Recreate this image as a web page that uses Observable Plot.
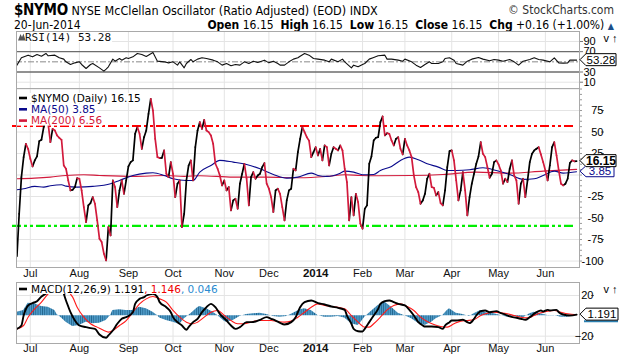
<!DOCTYPE html>
<html><head><meta charset="utf-8">
<script src="https://cdn.jsdelivr.net/npm/d3@7"></script>
<script src="https://cdn.jsdelivr.net/npm/@observablehq/plot@0.6"></script>
<style>
body{margin:0;background:#fff;}
#wrap{position:relative;width:620px;height:360px;overflow:hidden;font-family:"DejaVu Sans",Verdana,sans-serif;}
.abs{position:absolute;white-space:nowrap;}
.nar{font-family:"Liberation Sans Narrow","Arial Narrow","DejaVu Sans Condensed",sans-serif;}
svg{overflow:visible;}
</style></head><body><div id="wrap">
<div class="abs nar" id="title" style="left:14px;top:1px;font-size:12.5px;"><b style="font-size:15px;letter-spacing:-0.3px">$NYMO</b> NYSE McClellan Oscillator (Ratio Adjusted) (EOD) INDX</div>
<div class="abs nar" id="brand" style="right:6px;top:3px;font-size:12px;color:#333">© StockCharts.com</div>
<div class="abs nar" id="date" style="left:14px;top:18px;font-size:12px;"></div>
<div class="abs nar" id="ohlc" style="right:6px;top:18px;font-size:12px;"></div>
</div>
<script>
// ---- data ----
const monthIdx = [6,28,50,70,93,113,134,155,174,195,216,237];
const monthLabels = ["Jul","Aug","Sep","Oct","Nov","Dec","2014","Feb","Mar","Apr","May","Jun"];
const asOf = "20-Jun-2014";
const nymo = [-94.5,-45,-2.4,20.8,36.3,30.5,18.9,10,17,21.6,
39.4,41,55.7,65.4,59.5,38.2,53.7,51.8,46,43.3,
41,11.1,7.3,-6.3,-17.9,-17.1,-14,-3.6,-4.3,-17.9,
-37.2,-54.7,-35.3,-32.6,-25.6,-33.4,-52.7,-74,-77.9,-91.4,
-99.2,-60.5,-70.2,-6.3,-14,-37.2,-17.9,-6.3,-21.8,-6.3,
10,15,17,47.9,55.7,47.9,30.5,44,51.8,71.2,
88.6,75,42.1,20.8,19.7,20,28.6,1.5,-2.4,15,
1.5,-25.6,-10.1,-6.3,-60.5,-45,-6.3,11.1,17,-6.3,
32.4,51.8,61.5,53.7,64.2,51.8,49.9,46,36.3,13.1,
7.3,-0.5,-12.1,-6.3,-17.9,-14,-41.1,-29.5,-27.6,-39.2,
-10.1,1.5,13.1,-4.3,-35.3,-2.4,3.4,-4.3,-0.5,1.5,
9.2,13.9,-10.1,-15.9,-25.6,-43,-17.9,-15.9,-21.8,-37.2,
-52.7,-29.5,-17.9,-15.9,7.3,5.3,26.6,42.1,55.7,49.9,
44,40,20.8,26.6,32.4,22.8,30.5,17,34.4,32.4,
11.1,24.7,32.4,30.5,28.6,34.4,28.6,7.3,-8.2,-52.7,
-25.6,-46.9,-21.8,-31.4,-56.6,-62.4,-39.2,-35.3,13.1,21.6,
40.2,43.3,44,61.5,68.1,46,48.7,47.9,40.2,34.4,
42.1,44,30.5,23.9,42.1,34.4,28.6,20.8,-0.5,-14,
-19.8,-33.4,-29.5,-21.8,-4.3,1.5,-14,-14.8,-23.7,-19.8,
-32.6,-35.3,-17.9,9.2,27.8,28.6,17,-6.3,-29.5,-17.9,
3.4,-17.9,-46.9,-25.6,-10.1,1.5,13.1,21.6,38.2,24.7,
20.8,9.2,-3.2,1.5,15,17,12.3,5.3,-10.1,-4.3,
-8.2,7.3,17,-0.5,-6.3,-33.4,-10.1,-4.3,-25.6,-6.3,
15,24.7,28.6,30.5,32.4,23.9,15,5.3,-6.3,11.1,
32.4,38.2,22.8,5.3,-10.1,-12.1,-10.1,-4.3,14,17,
15.99,16.15];
const ma50Day = [0,3,8,12,15,20,22,27,34,42,46,52,58,61,66,70,76,79,82,87,91,97,103,109,115,121,126,132,135,139,145,147,151,155,160,163,168,172,176,180,184,189,193,197,203,209,215,221,227,232,236,241,245,251];
const ma50Val = [-17.1,-15.9,-13.2,-14,-12.5,-11.3,-12.9,-14,-13.2,-10.1,-6.3,-0.5,2.2,2.6,-0.5,-4.3,-6.3,-6.3,3.4,11.1,17,15,12.3,7.3,0.7,-3.6,-2.4,2.2,-0.5,-1.6,2.2,4.6,3.4,0.3,0.7,5.3,10,17,20.8,17.7,13.1,9.2,5.3,5.3,6.1,8.4,5.3,0.7,-5.1,-4.3,-0.5,4.6,2.2,3.85];
const ma200Day = [0,8,15,22,30,37,52,67,75,82,97,112,127,139,147,154,162,177,191,206,221,236,251];
const ma200Val = [-4.3,-3.6,-2.4,-0.5,0.3,-0.5,-1.6,-0.5,-1.6,-0.8,-2.4,-2.4,-3.2,-1.6,0.3,-0.5,-0.8,-0.5,0.7,3.4,2.2,4.6,6.56];
const upperLevel = 57, lowerLevel = -59;
const rsiDay = [0,2,5,7,9,11,13,14,17,19,21,22,24,26,28,29,31,33,34,37,39,40,41,43,44,46,47,49,50,52,54,56,58,61,63,66,68,70,72,73,75,76,78,79,81,83,85,88,90,92,94,96,98,100,102,104,106,108,111,113,115,117,118,120,122,124,126,127,129,131,133,135,138,140,141,144,146,147,150,151,153,155,156,158,160,162,165,166,168,171,173,174,177,179,181,183,185,186,189,191,192,194,196,197,200,202,204,207,209,212,214,216,218,221,223,225,227,230,232,234,236,239,241,243,245,247,248,250,251];
const rsiVal = [43.5,57.9,63.1,59.8,64.4,61.1,66.4,61.8,63.1,57.9,55.3,50,44.8,48,50,44.8,36.9,44.8,46.7,38.2,31.7,35.6,40.2,55.3,51.3,56.6,53.3,57.9,56.6,59.8,66.4,64.4,60.5,68.3,51.3,50,48,50,43.5,50,38.2,46.7,54.6,50,55.3,57.9,56.6,53.3,50,43.5,46.7,42.2,44.8,43.5,50,46.7,51.3,48.7,53.3,48,51.3,46.7,43.5,43.5,50,55.3,57.9,61.1,66.4,63.1,56.6,55.3,53.3,50,55.3,50,55.3,50,38.2,43.5,40.2,44.8,46.7,55.3,58.5,61.8,63.1,55.3,55.3,53.3,51.3,55.3,50,43.5,38.9,44.8,50,46.7,46.7,50,56.6,57.9,53.3,46.7,43.5,51.3,55.3,58.5,55.3,52,54.6,53.3,51.3,54.6,50,43.5,51.3,54.6,57.9,54.6,53.3,50,57.9,48,47.4,48,53.3,53.5,53.28];
const macdDay = [0,2,3,5,7,9,11,14,16,18,20,22,24,26,28,31,33,35,37,40,41,43,45,47,49,52,53,55,57,58,61,63,64,67,69,70,72,74,76,77,79,81,83,85,87,89,91,94,96,98,100,103,105,107,109,112,114,116,118,120,123,125,127,129,132,135,138,141,144,147,148,150,151,153,155,156,158,160,162,163,165,167,169,171,174,176,178,180,182,183,186,189,191,192,194,195,197,200,202,203,205,206,208,210,212,215,217,219,221,224,226,228,230,233,235,236,238,239,242,243,245,248,251];
const macdVal = [-12.8,-9.5,0.3,10.2,12.5,14.4,19,23.3,26.6,28.2,26.6,15.1,3.6,-4.6,-9.5,-11.1,-12.1,-12.8,-18.3,-21.6,-19.3,-14.4,-7.8,-2.9,-1.3,3.6,11.8,16.7,18.4,20,21.6,18.4,13.5,8.5,3.6,-1.3,-6.2,-9.5,-13.7,-11.1,-6.2,-2.9,3.6,8.5,11.8,8.5,2,-4.6,-9.5,-12.8,-11.1,-6.2,-6.2,-5.6,-3.9,-1.3,-2.9,-4.6,-6.9,-8.5,-6.2,-1.3,8.5,13.5,15.1,12.5,11.2,9.2,7.9,5.9,0.3,-7.8,-12.8,-15.1,-15.4,-12.8,-6.2,0.3,6.9,11.8,14.4,15.1,13.5,11.8,10.2,5.9,0.3,-6.2,-9.5,-10.5,-10.5,-11.1,-12.8,-9.5,-6.2,-4.6,-4.6,-3.9,-6.2,-7.2,-2.9,0.3,4.6,5.3,3.6,4.6,2.6,1.3,-0.6,-1.9,-2.9,-3.9,-1.3,3.6,5.3,4.3,5.9,5.3,5.9,3.6,1.3,0.3,1.191];
const sigDay = [0,3,5,8,11,14,17,20,22,25,27,30,33,36,39,41,43,46,49,52,55,58,61,64,67,70,73,76,79,81,84,87,90,93,96,99,102,105,108,111,114,117,120,123,126,129,132,135,138,141,144,147,150,153,156,158,160,163,166,169,172,175,178,181,184,187,190,193,196,199,202,205,208,211,214,217,220,223,226,229,232,235,238,241,244,247,251];
const sigVal = [-12.8,-9.5,-1.3,6.9,13.5,21.6,26.6,28.2,25.6,18.4,8.5,-1.3,-7.8,-11.1,-14.4,-16,-14.4,-9.5,-4.6,3.6,11.8,16.7,19,16.7,13.5,5.3,-1.3,-6.2,-7.8,-6.2,-1.3,3.6,5.3,0.3,-4.6,-7.8,-7.8,-6.2,-4.6,-4.6,-4.6,-5.6,-6.2,-5.2,-1.3,3.6,8.5,11.8,10.2,9.2,8.5,6.9,0.3,-6.2,-11.1,-11.1,-7.8,-1.3,5.9,10.2,11.8,9.2,5.3,-1.3,-5.6,-8.5,-10.5,-11.1,-7.8,-5.2,-4.6,-3.6,0.3,2.6,3.6,3,2,0.3,-1.3,-2,0.3,3,4.6,5.3,3.6,2,1.146];
const histDay = [0,3,5,8,11,14,17,18,20,22,25,28,31,34,37,40,42,43,46,49,52,55,58,61,63,64,67,70,73,75,78,81,82,85,88,90,93,94,97,100,103,106,109,112,115,118,121,124,127,129,132,135,138,141,144,147,150,153,154,156,159,162,165,168,171,174,177,180,183,186,188,191,193,194,197,200,203,205,208,211,214,217,220,223,226,227,230,232,235,238,241,244,247,250,251];
const histVal = [3.6,5.3,12.5,11.8,9.2,8.5,5.3,1.3,-2,-6.2,-10.5,-9.5,-6.2,-7.8,-7.2,-4.6,0.3,5.3,5.9,5.3,5.3,8.5,6.9,3.6,0.3,-2,-4.6,-6.2,-8.5,-3,2,7.9,9.2,6.9,3.6,0.3,-5.2,-6.2,-4.6,-0.7,1.3,2,2.6,1.3,-0.7,-1.3,-0.7,2.6,5.9,6.9,5.3,0.3,-1.3,-1.3,-0.7,-2,-7.8,-9.5,-7.2,-1.3,4.6,10.2,13.5,8.5,2.6,0,-2.9,-7.2,-9.5,-6.2,-2.9,0.3,5.3,6.9,2.6,1.3,-0.7,2,5.3,2.6,2,0.3,-1.3,-0.7,-1.3,-2,2,3.6,2,0.3,0.3,-1.3,-1.3,0.3,0.046];
const rsiTicks = [90,70,30,10];
const mainTicks = [75,50,25,0,-25,-50,-75,-100];
const macdTicks = [20,-20];

// ---- helpers ----
const zip = (ds, vs) => ds.map((d, i) => ({d, v: vs[i]}));
const last = a => a[a.length - 1];
const fmt2 = d3.format(".2f"), fmt3 = d3.format(".3f");
const W = 620, ML = 16, MR = 41;
const xDom = [-0.2, 252.3];
const GRID = "#e4e4e4", FRAME = "#a9a9a9", CRIM = "#d21a3c", NAVY = "#0a0a8c";
const axisFont = "Liberation Sans, Arial, sans-serif";
const LEGFONT = "DejaVu Sans, sans-serif";
const ctx = document.createElement("canvas").getContext("2d");
const measure = (txt, size, family) => { ctx.font = `${size}px ${family}`; return ctx.measureText(txt).width; };

const close = last(nymo), prev = nymo[nymo.length - 2];
document.getElementById("date").textContent = asOf;
document.getElementById("ohlc").innerHTML =
  `<b>Open</b> ${fmt2(close)} &nbsp;<b>High</b> ${fmt2(close)} &nbsp;<b>Low</b> ${fmt2(close)} &nbsp;<b>Close</b> ${fmt2(close)} &nbsp;<b>Chg</b> +${fmt2(close - prev)} (+${fmt2((close - prev) / Math.abs(prev) * 100)}%) <span style="color:#1b4f8a;font-size:9px">▲</span>`;

function tag(val, label, {stroke = "#000", color = "#000", weight = "normal", w = 30, h = 12, size = 11.5, under = null} = {}) {
  return (index, {y}, values, {width, marginRight}) => {
    const x0 = width - marginRight + 1, yy = y(val);
    const g = d3.create("svg:g");
    if (under) g.append("line").attr("x1", x0 + 4).attr("x2", x0 + 6 + w).attr("y1", yy + h / 2 + 1).attr("y2", yy + h / 2 + 1).attr("stroke", under).attr("stroke-width", 2);
    g.append("path").attr("d", `M${x0},${yy}L${x0 + 6},${yy - h / 2}H${x0 + 6 + w}V${yy + h / 2}H${x0 + 6}Z`)
      .attr("fill", "#fff").attr("stroke", stroke).attr("stroke-width", 1);
    g.append("text").attr("x", x0 + 6 + w / 2).attr("y", yy).attr("dy", "0.36em").attr("text-anchor", "middle")
      .attr("fill", color).attr("font-weight", weight).attr("font-size", size).attr("font-family", axisFont).text(label);
    return g.node();
  };
}
// legend lines: [{parts:[[text,color],...], dash:color|null, icon:bool}]
function legend(items, {y0, step = 11, size = 10.5, family = LEGFONT, tx = 15}) {
  return (index, scales, values, {marginLeft, marginTop}) => {
    const g = d3.create("svg:g");
    items.forEach((it, i) => {
      const yy = marginTop + y0 + i * step;
      const full = it.parts.map(p => p[0]).join("");
      const tw = measure(full, size, family);
      g.append("rect").attr("x", marginLeft + 1).attr("y", yy - 5).attr("width", tx + tw).attr("height", 10).attr("fill", "#fff");
      if (it.dash) g.append("rect").attr("x", marginLeft + 3).attr("y", yy - 1.3).attr("width", 8).attr("height", 2.6).attr("fill", it.dash);
      if (it.icon) g.append("path").attr("d", `M${marginLeft + 2},${yy + 3.5}L${marginLeft + 4.5},${yy - 3}L${marginLeft + 6},${yy}L${marginLeft + 7.5},${yy - 3.5}L${marginLeft + 9.5},${yy + 3.5}Z`).attr("fill", "#555");
      const t = g.append("text").attr("x", marginLeft + tx).attr("y", yy).attr("dy", "0.36em").attr("text-anchor", "start")
        .attr("font-size", size).attr("font-family", family);
      it.parts.forEach(([s, c]) => t.append("tspan").attr("fill", c).text(s));
    });
    return g.node();
  };
}
function xLabels(dy) {
  return [
    Plot.text(monthIdx.filter((d, i) => monthLabels[i] !== "2014"), {x: d => d, frameAnchor: "bottom", dy, text: d => monthLabels[monthIdx.indexOf(d)], fontSize: 11, fontFamily: axisFont, fill: "#111"}),
    Plot.text(monthIdx.filter((d, i) => monthLabels[i] === "2014"), {x: d => d, frameAnchor: "bottom", dy, text: d => monthLabels[monthIdx.indexOf(d)], fontSize: 11.5, fontWeight: "bold", fontFamily: axisFont, fill: "#111"})
  ];
}
const wrap = document.getElementById("wrap");
function place(svg, top) { svg.style.position = "absolute"; svg.style.left = "0px"; svg.style.top = top + "px"; wrap.appendChild(svg); }

// ---- RSI panel ----
const rsi = zip(rsiDay, rsiVal);
const rsiPlot = Plot.plot({
  width: W, height: 57, marginLeft: ML, marginRight: MR, marginTop: 0, marginBottom: 0,
  x: {domain: xDom, axis: null}, y: {domain: [-2.4, 109.6], axis: null},
  style: {background: "transparent", overflow: "visible"},
  marks: [
    Plot.ruleX(monthIdx, {stroke: GRID}),
    Plot.ruleY([90, 10], {stroke: GRID}),
    Plot.ruleY([70, 30], {stroke: "#6d6d6d", strokeWidth: 1.3}),
    Plot.ruleY([50], {stroke: "#8a8a8a", strokeDasharray: "6,2,2,2"}),
    Plot.line(rsi, {x: "d", y: "v", stroke: "#111", strokeWidth: 1.1}),
    Plot.frame({stroke: FRAME}),
    Plot.axisY(rsiTicks, {anchor: "right", tickSize: 3, tickPadding: 1, fontSize: 11, fontFamily: axisFont, stroke: "#777"}),
    legend([{parts: [[`RSI(14) ${fmt2(last(rsiVal))}`, "#111"]], icon: true}], {y0: 6, size: 11, family: "DejaVu Sans Mono, monospace", tx: 9}),
    tag(last(rsiVal), fmt2(last(rsiVal)), {w: 30, h: 12})
  ]
});
place(rsiPlot, 31);

// ---- Main panel ----
const segs = d3.range(nymo.length - 1).map(i => ({d1: i, v1: nymo[i], d2: i + 1, v2: nymo[i + 1], up: nymo[i + 1] >= nymo[i]}));
const minor = d3.range(-100, 101, 6.25);
const mainPlot = Plot.plot({
  width: W, height: 179 + 14, marginLeft: ML, marginRight: MR, marginTop: 0, marginBottom: 14,
  x: {domain: xDom, axis: null}, y: {domain: [-107.5, 100.6], axis: null},
  style: {background: "transparent", overflow: "visible"},
  marks: [
    Plot.ruleX(monthIdx, {stroke: GRID}),
    Plot.ruleY([100, ...mainTicks], {stroke: GRID}),
    Plot.ruleY([upperLevel], {stroke: "#ff0000", strokeWidth: 2.2, strokeDasharray: "9,3,3,3,3,3", insetLeft: -4, insetRight: 6}),
    Plot.ruleY([lowerLevel], {stroke: "#00ee00", strokeWidth: 2.2, strokeDasharray: "9,3,3,3,3,3", insetLeft: -4, insetRight: 6}),
    Plot.line(zip(ma200Day, ma200Val), {x: "d", y: "v", stroke: CRIM, strokeWidth: 1.1, curve: "monotone-x"}),
    Plot.line(zip(ma50Day, ma50Val), {x: "d", y: "v", stroke: NAVY, strokeWidth: 1.1, curve: "monotone-x"}),
    Plot.link(segs.filter(s => s.up), {x1: "d1", y1: "v1", x2: "d2", y2: "v2", stroke: "#000", strokeWidth: 1.7, strokeLinecap: "round"}),
    Plot.link(segs.filter(s => !s.up), {x1: "d1", y1: "v1", x2: "d2", y2: "v2", stroke: CRIM, strokeWidth: 1.7, strokeLinecap: "round"}),
    Plot.frame({stroke: FRAME}),
    Plot.axisY(minor, {anchor: "right", tickSize: 2, text: null, stroke: "#999"}),
    Plot.axisY(mainTicks, {anchor: "right", tickSize: 3, tickPadding: 0, textAnchor: "end", dx: 21, fontSize: 11, fontFamily: axisFont, stroke: "#777", text: d => d === 0 ? "" : String(d)}),
    ...xLabels(9),
    legend([
      {parts: [[`$NYMO (Daily) ${fmt2(last(nymo))}`, "#000"]], dash: "#000"},
      {parts: [[`MA(50) ${fmt2(last(ma50Val))}`, NAVY]], dash: NAVY},
      {parts: [[`MA(200) ${fmt2(last(ma200Val))}`, CRIM]], dash: CRIM}
    ], {y0: 10, step: 11.3, size: 10.5}),
    tag(last(ma50Val), fmt2(last(ma50Val)), {stroke: NAVY, color: NAVY, w: 28, h: 11}),
    tag(last(nymo), fmt2(last(nymo)), {weight: "bold", w: 30, h: 12, size: 12})
  ]
});
place(mainPlot, 88);

// ---- MACD panel ----
const histDefs = (index, {x}) => {
  const step = x(1) - x(0);
  const svg = d3.create("svg:defs");
  const p = svg.append("pattern").attr("id", "histbars").attr("patternUnits", "userSpaceOnUse")
    .attr("width", step).attr("height", 10).attr("x", x(0) - step / 2);
  p.append("rect").attr("width", step).attr("height", 10).attr("fill", "#4f9bc8");
  p.append("rect").attr("width", 0.8).attr("height", 10).attr("fill", "#23668f");
  return svg.node();
};
const macdPlot = Plot.plot({
  width: W, height: 61 + 14, marginLeft: ML, marginRight: MR, marginTop: 0, marginBottom: 14,
  x: {domain: xDom, axis: null}, y: {domain: [-27.2, 32.8], axis: null},
  style: {background: "transparent", overflow: "visible"},
  marks: [
    histDefs,
    Plot.ruleX(monthIdx, {stroke: GRID}),
    Plot.ruleY([20, -20], {stroke: GRID}),
    Plot.areaY(zip(histDay, histVal), {x: "d", y: "v", fill: "url(#histbars)"}),
    Plot.line(zip(sigDay, sigVal), {x: "d", y: "v", stroke: "#ff1a1a", strokeWidth: 1.1, curve: "monotone-x"}),
    Plot.line(zip(macdDay, macdVal), {x: "d", y: "v", stroke: "#000", strokeWidth: 1.9, curve: "monotone-x"}),
    Plot.frame({stroke: FRAME}),
    Plot.axisY(macdTicks, {anchor: "right", tickSize: 3, tickPadding: 0, textAnchor: "end", dx: 11, fontSize: 11, fontFamily: axisFont, stroke: "#777"}),
    ...xLabels(8.5),
    legend([{parts: [[`MACD(12,26,9) ${fmt3(last(macdVal))}`, "#000"], [`, ${fmt3(last(sigVal))}`, "#e00"], [`, ${fmt3(last(histVal))}`, "#2a8ad0"]], dash: "#000"}], {y0: 7, size: 10.5}),
    tag(last(macdVal), fmt3(last(macdVal)), {w: 32, h: 12, under: "#2a7fb0"})
  ]
});
place(macdPlot, 282);
</script>
</body></html>
